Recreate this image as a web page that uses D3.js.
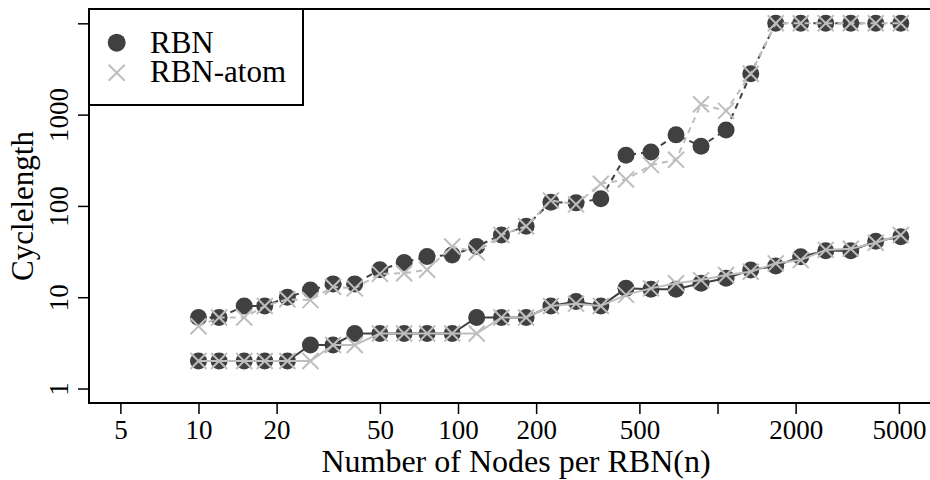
<!DOCTYPE html>
<html>
<head>
<meta charset="utf-8">
<script src="https://cdn.jsdelivr.net/npm/d3@7"></script>
<style>
  body { margin: 0; background: #fff; }
  svg { display: block; font-family: "Liberation Serif", "Times New Roman", serif; }
</style>
</head>
<body>
<svg id="chart" width="930" height="480"></svg>
<script>
// Nodes per RBN (x) and cycle lengths
const nodes = [10, 12, 15, 18, 22, 27, 33, 40, 50, 62, 76, 95, 118, 147, 183, 228, 285, 355, 444, 554, 692, 864, 1079, 1343, 1676, 2092, 2612, 3261, 4071, 5082];

// upper (dashed) series
const rbnHigh  = [6, 6, 8, 8, 10, 12, 14, 14, 20, 24, 28, 29, 36, 48, 60, 110, 108, 120, 360, 390, 600, 450, 680, 2800, 10000, 10000, 10000, 10000, 10000, 10000];
const atomHigh = [4.8, 6, 6, 8, 9.5, 9.3, 13, 12.5, 18, 18.3, 20, 36, 31, 48, 60, 115, 104, 175, 195, 280, 320, 1300, 1100, 2800, 10000, 10000, 10000, 10000, 10000, 10000];

// lower (solid) series
const rbnLow  = [2, 2, 2, 2, 2, 3, 3, 4, 4, 4, 4, 4, 6, 6, 6, 8, 9, 8, 12.5, 12.2, 12.2, 14.2, 16.1, 19.9, 22, 27.8, 32.3, 32.3, 41, 46];
const atomLow = [2, 2, 2, 2, 2, 2, 3, 3, 4, 4, 4, 4, 4, 6, 6, 8, 8.5, 8, 10.6, 12.5, 14.2, 15.4, 17.5, 19, 23.5, 25.5, 33, 34, 39.5, 48];

const xTicks = [5, 10, 20, 50, 100, 200, 500, 1000, 2000, 5000];
const xTickLabels = ["5", "10", "20", "50", "100", "200", "500", "", "2000", "5000"];
const yTicks = [1, 10, 100, 1000, 10000];
const yTickLabels = ["1", "10", "100", "1000", ""];

const legendNames = ["RBN", "RBN-atom"];

const dark = "#404040";
const light = "#bebebe";

const svg = d3.select("#chart");
const pLeft = 89, pRight = 931, pTop = 9, pBottom = 403;

const x = d3.scaleLog().domain([3.785, 6647]).range([pLeft, pRight]);
const y = d3.scaleLog().domain([0.694, 14350]).range([pBottom, pTop]);

const pts = vals => nodes.map((n, i) => [n, vals[i]]);
const line = d3.line().x(d => x(d[0])).y(d => y(d[1]));

// axes
const xAxis = svg.append("g")
    .attr("transform", `translate(0,${pBottom})`)
    .call(d3.axisBottom(x).tickValues(xTicks).tickFormat((d, i) => xTickLabels[i]).tickSize(11));
xAxis.select(".domain").remove();
xAxis.selectAll(".tick line").attr("stroke", "#000").attr("stroke-width", 1.5);
xAxis.selectAll(".tick text")
    .attr("y", 36).attr("dy", 0)
    .attr("font-size", 27).attr("font-family", "Liberation Serif").attr("fill", "#000");

const yAxis = svg.append("g")
    .attr("transform", `translate(${pLeft},0)`)
    .call(d3.axisLeft(y).tickValues(yTicks).tickFormat((d, i) => yTickLabels[i]).tickSize(11));
yAxis.select(".domain").remove();
yAxis.selectAll(".tick line").attr("stroke", "#000").attr("stroke-width", 1.5);
yAxis.selectAll(".tick text")
    .attr("x", 0).attr("dy", 0)
    .attr("transform", "translate(-21,0) rotate(-90)")
    .attr("text-anchor", "middle")
    .attr("font-size", 27).attr("font-family", "Liberation Serif").attr("fill", "#000");

// axis titles
svg.append("text")
    .attr("x", 516).attr("y", 472)
    .attr("text-anchor", "middle")
    .attr("font-size", 32)
    .text("Number of Nodes per RBN(n)");
svg.append("text")
    .attr("transform", `translate(33,${(pTop + pBottom) / 2}) rotate(-90)`)
    .attr("text-anchor", "middle")
    .attr("font-size", 31)
    .text("Cyclelength");

// series
function drawLine(vals, color, dashed) {
    svg.append("path")
        .datum(pts(vals))
        .attr("fill", "none")
        .attr("stroke", color)
        .attr("stroke-width", 2)
        .attr("stroke-dasharray", dashed ? "6,5" : null)
        .attr("d", line);
}
function drawCircles(vals) {
    svg.append("g").selectAll("circle")
        .data(pts(vals))
        .join("circle")
        .attr("cx", d => x(d[0]))
        .attr("cy", d => y(d[1]))
        .attr("r", 8.5)
        .attr("fill", dark);
}
const cross = (s) => `M${-s},${-s}L${s},${s}M${-s},${s}L${s},${-s}`;
function drawCrosses(vals) {
    svg.append("g").selectAll("path")
        .data(pts(vals))
        .join("path")
        .attr("transform", d => `translate(${x(d[0])},${y(d[1])})`)
        .attr("d", cross(8))
        .attr("stroke", light)
        .attr("stroke-width", 2)
        .attr("fill", "none");
}

drawLine(rbnHigh, dark, true);
drawLine(rbnLow, dark, false);
drawCircles(rbnHigh);
drawCircles(rbnLow);
drawLine(atomHigh, light, true);
drawLine(atomLow, light, false);
drawCrosses(atomHigh);
drawCrosses(atomLow);

// plot frame
svg.append("rect")
    .attr("x", pLeft).attr("y", pTop)
    .attr("width", pRight - pLeft).attr("height", pBottom - pTop)
    .attr("fill", "none").attr("stroke", "#000").attr("stroke-width", 2);

// legend
const lg = svg.append("g");
lg.append("rect")
    .attr("x", pLeft).attr("y", pTop)
    .attr("width", 303 - pLeft).attr("height", 105 - pTop)
    .attr("fill", "#fff").attr("stroke", "#000").attr("stroke-width", 2);
lg.append("circle").attr("cx", 116.7).attr("cy", 42.7).attr("r", 9).attr("fill", dark);
lg.append("path").attr("transform", "translate(116.7,72.7)").attr("d", cross(8))
    .attr("stroke", light).attr("stroke-width", 2).attr("fill", "none");
lg.selectAll("text.leg")
    .data(legendNames)
    .join("text")
    .attr("class", "leg")
    .attr("x", 150)
    .attr("y", (d, i) => 53 + i * 29)
    .attr("font-size", 31)
    .text(d => d);
</script>
</body>
</html>
